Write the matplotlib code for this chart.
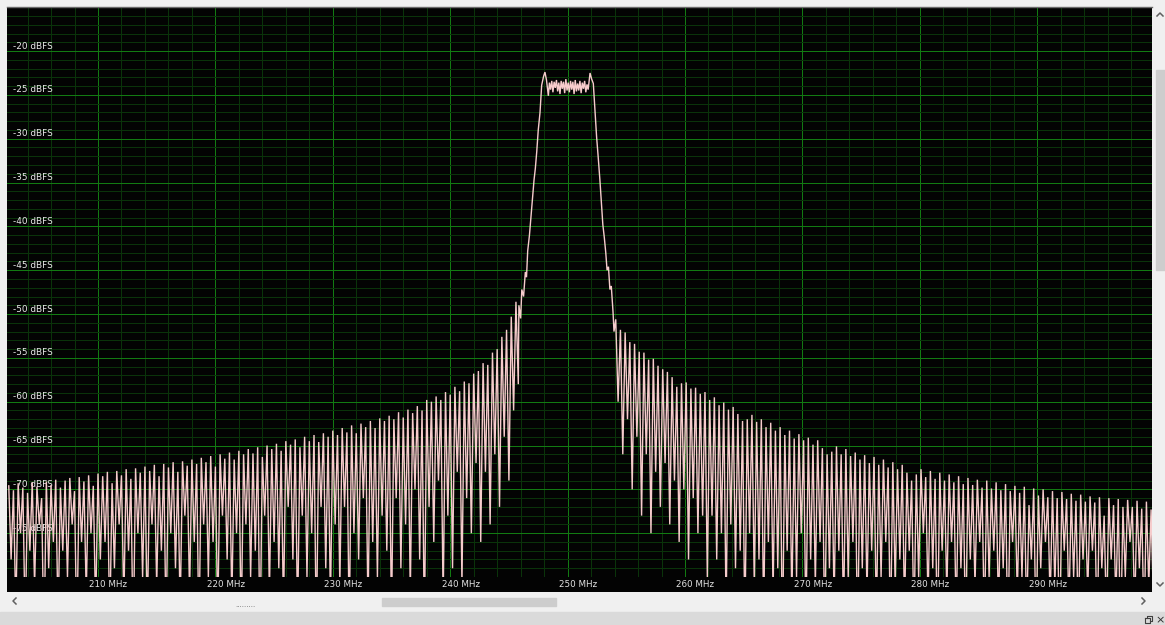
import numpy as np
import matplotlib
matplotlib.use("Agg")
import matplotlib.pyplot as plt
from matplotlib.patches import Rectangle
from matplotlib.lines import Line2D
import matplotlib.transforms as mtransforms

# ---------------- data ----------------
x_ticks_mhz = [210, 220, 230, 240, 250, 260, 270, 280, 290]
x_tick_labels = [f"{v} MHz" for v in x_ticks_mhz]
y_ticks_db = [-20, -25, -30, -35, -40, -45, -50, -55, -60, -65, -70, -75]
y_tick_labels = [f"{v} dBFS" for v in y_ticks_db]

lobe_step = 0.4          # MHz between side-lobe peaks
left_start = 202.4       # first left lobe peak (MHz)
right_start = 254.1      # first right lobe peak (MHz)

left_peaks = [
    -69.6, -70.1, -69.3, -69.8, -70.4, -69.2, -69.7, -71.0, -69.1, -69.5,
    -68.9, -69.8, -69.0, -68.7, -70.2, -68.6, -69.1, -68.4, -69.6, -68.2,
    -68.5, -68.0, -69.3, -67.9, -68.4, -67.7, -68.8, -67.6, -68.1, -67.4,
    -67.9, -67.2, -68.5, -67.1, -67.5, -66.9, -68.0, -66.8, -67.3, -66.6,
    -67.1, -66.4, -66.9, -66.2, -67.4, -66.0, -66.5, -65.8, -66.6, -65.6,
    -66.0, -65.4, -65.9, -65.2, -66.3, -65.0, -65.4, -64.8, -65.6, -64.5,
    -64.9, -64.3, -65.2, -64.0, -64.5, -63.8, -64.6, -63.6, -64.0, -63.3,
    -63.8, -63.0, -63.5, -62.7, -63.6, -62.5, -62.9, -62.2, -63.0, -61.9,
    -62.2, -61.6, -62.0, -61.2, -61.8, -60.9, -61.3, -60.5, -61.0, -59.8,
    -60.0, -59.4, -59.8, -58.9, -59.2, -58.3, -58.8, -57.7, -57.9, -56.8,
    -56.5, -55.6, -55.8, -54.4, -54.0, -52.6, -51.8, -50.3, -48.6,
]
left_nulls = [
    -78, -84, -75, -86, -77, -81, -74, -88, -79, -76,
    -85, -77, -80, -74, -87, -76, -82, -75, -84, -78,
    -76, -86, -79, -74, -83, -77, -88, -75, -80, -85,
    -74, -81, -77, -86, -75, -79, -84, -73, -82, -76,
    -87, -74, -80, -76, -85, -73, -78, -83, -75, -86,
    -74, -80, -77, -88, -73, -82, -76, -79, -84, -72,
    -78, -85, -73, -80, -75, -87, -72, -79, -83, -74,
    -81, -72, -86, -75, -78, -71, -84, -76, -80, -73,
    -77, -85, -71, -79, -74, -82, -70, -78, -86, -72,
    -76, -69, -83, -73, -79, -68, -81, -71, -75, -67,
    -76, -68, -74, -66, -72, -64, -69, -61, -58,
]

# main lobe: skirts and pass band (MHz, dBFS)
main_freq = [
    245.85, 246.0, 246.1, 246.25, 246.4, 246.5, 246.6, 246.75, 246.9, 247.0,
    247.14, 247.25, 247.37, 247.5, 247.65, 247.79, 247.95, 248.07, 248.2, 248.36,
    248.45, 248.55, 248.65, 248.75, 248.85, 248.95, 249.05, 249.15, 249.25, 249.35,
    249.45, 249.55, 249.65, 249.75, 249.85, 249.95, 250.05, 250.15, 250.25, 250.35,
    250.45, 250.55, 250.65, 250.75, 250.85, 250.95, 251.05, 251.15, 251.25, 251.35,
    251.45, 251.55, 251.65, 251.75, 251.91, 252.05, 252.19, 252.33, 252.47, 252.6,
    252.75, 252.9, 253.0, 253.12, 253.25, 253.36, 253.48, 253.6, 253.72, 253.87,
    253.95,
]
main_db = [
    -49.0, -50.5, -47.2, -48.0, -45.2, -45.8, -42.8, -41.0, -38.6, -37.0,
    -34.7, -33.4, -31.5, -29.0, -27.0, -23.9, -22.9, -22.4, -23.3, -25.1,
    -23.6, -24.4, -23.4, -24.7, -23.5, -24.2, -23.3, -24.6, -23.6, -24.9,
    -23.4, -24.3, -23.5, -24.8, -23.2, -24.5, -23.6, -24.7, -23.4, -24.4,
    -23.5, -24.9, -23.3, -24.6, -23.7, -24.5, -23.4, -24.8, -23.6, -24.3,
    -23.4, -24.7, -23.8, -24.4, -22.5, -23.2, -23.7, -26.7, -29.8, -32.0,
    -34.7, -37.8, -39.8, -41.2, -43.0, -45.0, -44.6, -47.2, -46.8, -49.8,
    -52.0,
]

right_peaks = [
    -50.6, -51.8, -52.1, -53.2, -53.4, -54.3, -54.4, -55.2, -55.1, -55.9,
    -56.3, -56.6, -57.2, -58.3, -57.9, -57.8, -58.5, -58.4, -59.1, -58.9,
    -59.8, -59.5, -60.4, -60.1, -60.9, -60.6, -61.4, -62.2, -62.0, -61.5,
    -62.3, -62.0, -62.9, -62.4, -63.3, -62.9, -63.8, -63.3, -64.2, -63.7,
    -64.4, -64.1, -64.9, -64.4, -65.3, -66.0, -65.7, -65.1, -66.0, -65.4,
    -66.2, -65.8, -66.6, -66.1, -67.0, -66.3, -67.2, -66.6, -67.5, -66.9,
    -67.7, -67.2, -68.1, -69.0, -68.3, -67.7, -68.6, -67.9, -68.8, -68.1,
    -69.0, -68.3, -69.2, -68.5, -69.4, -68.7, -69.5, -68.9, -69.8, -69.0,
    -69.9, -69.2, -70.1, -69.4, -70.2, -69.6, -70.4, -69.7, -71.8, -69.9,
    -70.7, -70.0, -70.9, -70.2, -71.0, -70.3, -71.1, -70.5, -71.3, -70.6,
    -71.4, -70.8, -71.5, -70.9, -73.0, -71.0, -71.8, -71.1, -72.0, -71.2,
    -72.0, -71.3, -72.2, -71.4, -72.3,
]
right_nulls = [
    -60, -66, -62, -70, -64, -73, -66, -75, -68, -72,
    -67, -74, -69, -76, -70, -78, -71, -75, -73, -80,
    -73, -78, -75, -84, -74, -79, -77, -86, -75, -81,
    -78, -85, -76, -82, -79, -88, -77, -83, -80, -75,
    -86, -78, -81, -76, -87, -79, -83, -77, -85, -80,
    -76, -88, -79, -82, -77, -85, -80, -76, -87, -81,
    -78, -84, -77, -86, -80, -75, -83, -79, -88, -77,
    -82, -76, -85, -79, -87, -78, -81, -76, -86, -80,
    -77, -84, -79, -88, -76, -82, -80, -85, -78, -87,
    -79, -76, -83, -81, -88, -77, -84, -80, -86, -78,
    -82, -77, -87, -79, -85, -78, -83, -88, -80, -76,
    -84, -79, -86, -81, -83,
]

# ---------------- build trace ----------------
def lobes(start, peaks, nulls):
    f = start + lobe_step * np.arange(len(peaks))
    xs = np.empty(2 * len(peaks))
    ys = np.empty(2 * len(peaks))
    xs[0::2] = f
    xs[1::2] = f + lobe_step / 2
    ys[0::2] = peaks
    ys[1::2] = nulls
    return xs, ys

lx, ly = lobes(left_start, left_peaks, left_nulls)
rx, ry = lobes(right_start, right_peaks, right_nulls)
freq = np.concatenate([lx, main_freq, rx])
level = np.concatenate([ly, main_db, ry])

# ---------------- figure ----------------
W, H = 1165, 625
fig = plt.figure(figsize=(W / 100, H / 100), dpi=100, facecolor="#f0f0f0")

def fx(px):
    return px / W

def fy(py):
    return 1 - py / H

ax = fig.add_axes([fx(7), fy(577), (1151.7 - 7) / W, (577 - 7.25) / H])
ax.set_facecolor("#030303")
ax.set_xlim(202.25, 299.75)
ax.set_ylim(-80, -15)
for s in ax.spines.values():
    s.set_visible(False)
ax.tick_params(which="both", length=0, labelbottom=False, labelleft=False)

major_col = "#127a12"
minor_col = "#0a330a"
for v in np.arange(204, 300, 2):
    col = major_col if v % 10 == 0 else minor_col
    ax.axvline(v, color=col, lw=0.72, zorder=0, snap=True)
for v in np.arange(-79, -15, 1):
    col = major_col if v % 5 == 0 else minor_col
    ax.axhline(v, color=col, lw=0.72, zorder=0, snap=True)

# y labels (inside plot, above their lines)
ytrans = mtransforms.offset_copy(
    mtransforms.blended_transform_factory(ax.transAxes, ax.transData),
    fig=fig, x=6, y=5, units="dots")
for v, lab in zip(y_ticks_db, y_tick_labels):
    ax.text(0, v, lab, transform=ytrans, ha="left", va="center",
            fontsize=6.4, color="#eaeaea", family="DejaVu Sans", zorder=1)

# spectrum trace
ax.plot(freq, level, color="#f6cccc", lw=1.0, zorder=2, solid_joinstyle="miter")

# black frequency strip with labels
sax = fig.add_axes([fx(7), fy(591.5), (1151.7 - 7) / W, 14.5 / H])
sax.set_facecolor("#030303")
sax.set_xlim(ax.get_xlim())
sax.set_ylim(0, 1)
for s in sax.spines.values():
    s.set_visible(False)
sax.set_xticks([])
sax.set_yticks([])
xtrans = mtransforms.offset_copy(sax.transData, fig=fig, x=10.5, y=0, units="dots")
for v, lab in zip(x_ticks_mhz, x_tick_labels):
    sax.text(v, 0.5, lab, transform=xtrans, ha="center", va="center",
             fontsize=6.3, color="#e2e2e2", family="DejaVu Sans")

# ---------------- window chrome ----------------
def frect(x0, y0, x1, y1, col):
    fig.patches.append(Rectangle((fx(x0), fy(y1)), fx(x1 - x0), (y1 - y0) / H,
                                 transform=fig.transFigure, color=col, zorder=-1))

def fline(pts, col="#606060", lw=1.1):
    fig.lines.append(Line2D([fx(p[0]) for p in pts], [fy(p[1]) for p in pts],
                            transform=fig.transFigure, color=col, lw=lw))

frect(0, 612, W, H, "#dadada")
frect(382, 597.5, 556, 605.5, "#cdcdcd")
frect(1156, 70, 1165, 270, "#cdcdcd")
fline([(7, 6.5), (1152, 6.5)], col="#6a6a6a", lw=1.0)
fline([(1157, 16), (1160, 13), (1163, 16)])
fline([(1157, 583), (1160, 586), (1163, 583)])
fline([(16, 598), (13, 601), (16, 604)])
fline([(1142, 598), (1145, 601), (1142, 604)])
# restore & close icons
fline([(1145, 618), (1145, 623), (1150, 623), (1150, 618), (1145, 618)], col="#404040", lw=0.8)
fline([(1147, 618), (1147, 616), (1152, 616), (1152, 621), (1150, 621)], col="#404040", lw=0.8)
fig.text(fx(1160.5), fy(620), "\u00d7", ha="center", va="center", fontsize=8,
         color="#303030", family="DejaVu Sans")
fig.text(fx(245), fy(607.5), "\u00b7" * 9, ha="center", va="center", fontsize=5,
         color="#707070", family="DejaVu Sans")

fig.savefig("out.png", dpi=100, facecolor=fig.get_facecolor())
